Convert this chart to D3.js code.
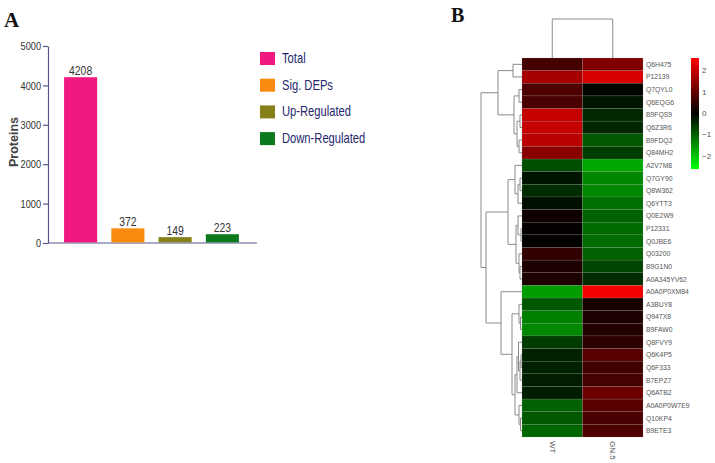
<!DOCTYPE html>
<html>
<head>
<meta charset="utf-8">
<script src="https://cdn.jsdelivr.net/npm/d3@7"></script>
<style>
body{margin:0;background:#fff;}
svg{display:block;}
.narrow{font-family:"Liberation Sans Narrow","Arial Narrow","Liberation Sans",Arial,sans-serif;}
</style>
</head>
<body>
<div id="chart"></div>
<script>
//DATA PANEL A
var categories = ['Total', 'Sig. DEPs', 'Up-Regulated', 'Down-Regulated'];
var proteinCounts = [4208, 372, 149, 223];
var barColors = ['#f0197f', '#fb8a10', '#85801a', '#0b7a1e'];
var yTicks = [0, 1000, 2000, 3000, 4000, 5000];

//DATA PANEL B
var proteinIds = ['Q6H475','P12139','Q7QYL0','Q6EQG6','B9FQS9','Q6Z3R6','B9FDQ2','Q84MH2',
	'A2V7M8','Q7GY90','Q8W362','Q6YTT3','Q0E2W9','P12331','Q0JBE6','Q03200','B9G1N0','A0A345YV62',
	'A0A0P0XM84','A3BUY8','Q947X8','B9FAW0','Q8FVY9','Q6K4P5','Q6F333','B7EPZ7','Q6ATB2',
	'A0A0P0W7E9','Q10KP4','B9ETE3'];
var samples = ['WT', 'GN.5'];
var wtValues = [0.7, 1.7, 0.8, 0.75, 2.0, 2.0, 1.9, 1.4,
	-0.8, -0.2, -0.45, -0.15, 0.15, 0.05, 0.03, 0.5, 0.3, 0.3,
	-1.6, -0.9, -1.3, -1.4, -0.6, -0.35, -0.35, -0.3, -0.3,
	-1.0, -0.9, -1.05];
var gnValues = [1.3, 2.2, -0.05, -0.2, -0.4, -0.4, -0.9, -0.6,
	-1.7, -1.4, -1.4, -1.15, -1.0, -1.1, -1.1, -1.0, -0.7, -0.45,
	2.5, 0.25, 0.3, 0.35, 0.45, 0.9, 0.65, 0.7, 1.1,
	0.9, 0.75, 0.8];
var legendTicks = [-2, -1, 0, 1, 2];

//row clustering: [height, left, right], leaves are row indexes
var rowTree = [41,
	[24,
		[9, 0, 1],
		[8, [3, 2, 3], [5, [2, 4, 5], [3, 6, 7]]]],
	[36,
		[14,
			[7, 8, [4, [2, 9, 10], 11]],
			[6, [4, 12, [1, 13, 14]], [3, 15, [2, 16, 17]]]],
		[21,
			18,
			[10,
				[3, 19, [1.5, 20, 21]],
				[7,
					[5, [3.5, 22, [2, [1, 23, 24], 25]], 26],
					[3, 27, [1.5, 28, 29]]]]]]];
var colTree = [39, 0, 1];

var width = 715, height = 463;
var SQUEEZE = 0.8; //fake a narrow font

var svg = d3.select('#chart').append('svg')
.attr('width', width)
.attr('height', height);

//PANEL A
var pa = svg.append('g');

pa.append('text')
.attr('x', 4)
.attr('y', 27)
.attr('font-family', 'Liberation Serif, Times New Roman, serif')
.attr('font-weight', 'bold')
.attr('font-size', 21)
.attr('fill', '#111')
.text('A');

var y = d3.scaleLinear().domain([0, 5000]).range([243, 46]);
var x = d3.scaleBand().domain(categories).range([57, 246])
.paddingInner(0.3).paddingOuter(0.15);

var axisColor = '#55578a';

var yAxis = pa.append('g')
.attr('class', 'narrow')
.attr('transform', 'translate(48,0)')
.call(d3.axisLeft(y).tickValues(yTicks).tickFormat(d3.format('d')).tickSize(5).tickSizeOuter(0));
yAxis.select('.domain').attr('stroke', axisColor).attr('stroke-width', 1.2);
yAxis.selectAll('.tick line').attr('stroke', axisColor).attr('stroke-width', 1.2);
yAxis.selectAll('.tick text')
.attr('fill', '#333')
.attr('font-size', 11.5)
.attr('x', -7 / SQUEEZE)
.attr('transform', 'scale(' + SQUEEZE + ',1)');

//x axis line
pa.append('line')
.attr('x1', 48).attr('x2', 257)
.attr('y1', y(0)).attr('y2', y(0))
.attr('stroke', axisColor)
.attr('stroke-width', 1.2);

pa.append('text')
.attr('transform', 'translate(18,142) rotate(-90)')
.attr('text-anchor', 'middle')
.attr('font-family', 'Liberation Sans, Arial, sans-serif')
.attr('font-weight', 'bold')
.attr('font-size', 12.5)
.attr('fill', '#444')
.text('Proteins');

pa.selectAll('rect.bar')
.data(proteinCounts)
.enter()
.append('rect')
.attr('class', 'bar')
.attr('x', function(d, i){ return x(categories[i]); })
.attr('y', function(d){ return y(d); })
.attr('width', x.bandwidth())
.attr('height', function(d){ return y(0) - y(d) - 0.6; })
.attr('fill', function(d, i){ return barColors[i]; });

pa.selectAll('text.val')
.data(proteinCounts)
.enter()
.append('text')
.attr('class', 'val narrow')
.attr('transform', function(d, i){
	return 'translate(' + (x(categories[i]) + x.bandwidth() / 2) + ',' + (y(d) - 2.5) + ') scale(' + SQUEEZE + ',1)';
})
.attr('text-anchor', 'middle')
.attr('font-size', 13)
.attr('fill', '#333')
.text(function(d){ return d; });

//legend
var legend = pa.selectAll('g.leg')
.data(categories)
.enter()
.append('g')
.attr('class', 'leg')
.attr('transform', function(d, i){ return 'translate(260,' + (52 + i * 26.7) + ')'; });

legend.append('rect')
.attr('width', 15)
.attr('height', 13)
.attr('fill', function(d, i){ return barColors[i]; });

legend.append('text')
.attr('class', 'narrow')
.attr('transform', 'translate(22,11) scale(' + SQUEEZE + ',1)')
.attr('font-size', 14)
.attr('fill', '#25286e')
.text(function(d){ return d; });

//PANEL B
var pb = svg.append('g');

pb.append('text')
.attr('x', 451)
.attr('y', 22)
.attr('font-family', 'Liberation Serif, Times New Roman, serif')
.attr('font-weight', 'bold')
.attr('font-size', 20)
.attr('fill', '#111')
.text('B');

var rowY = d3.scaleBand().domain(d3.range(proteinIds.length)).range([58, 437]);
var colX = d3.scaleBand().domain(samples).range([522, 643]);
var color = d3.scaleLinear().domain([-2.6, 0, 2.6]).range(['#00ff00', '#000000', '#ff0000']);

var cells = [];
proteinIds.forEach(function(id, i){
	cells.push({row: i, col: 'WT', v: wtValues[i]});
	cells.push({row: i, col: 'GN.5', v: gnValues[i]});
});

pb.selectAll('rect.cell')
.data(cells)
.enter()
.append('rect')
.attr('class', 'cell')
.attr('x', function(d){ return colX(d.col); })
.attr('y', function(d){ return rowY(d.row); })
.attr('width', colX.bandwidth())
.attr('height', rowY.bandwidth())
.attr('fill', function(d){ return color(d.v); })
.attr('stroke', '#9a9a9a')
.attr('stroke-opacity', 0.35)
.attr('stroke-width', 0.5);

//row labels
pb.selectAll('text.rowlab')
.data(proteinIds)
.enter()
.append('text')
.attr('class', 'rowlab')
.attr('x', 646)
.attr('y', function(d, i){ return rowY(i) + rowY.bandwidth() / 2; })
.attr('dominant-baseline', 'central')
.attr('font-family', 'Liberation Sans, Arial, sans-serif')
.attr('font-size', 6.8)
.attr('fill', '#555')
.text(function(d){ return d; });

//column labels
pb.selectAll('text.collab')
.data(samples)
.enter()
.append('text')
.attr('class', 'collab')
.attr('transform', function(d){ return 'translate(' + (colX(d) + colX.bandwidth() / 2) + ',441) rotate(90)'; })
.attr('dominant-baseline', 'central')
.attr('font-family', 'Liberation Sans, Arial, sans-serif')
.attr('font-size', 8)
.attr('fill', '#555')
.text(function(d){ return d; });

//DENDROGRAMS
var treeColor = '#8a8a8a';
var rowH = d3.scaleLinear().domain([0, rowTree[0]]).range([522, 481]);
var colH = d3.scaleLinear().domain([0, colTree[0]]).range([58, 19]);
var dendro = pb.append('g')
.attr('fill', 'none')
.attr('stroke', treeColor)
.attr('stroke-width', 1);

//returns {pos, h} of a node, drawing its links
function drawRowNode(node){
	if(typeof node === 'number'){
		return {pos: rowY(node) + rowY.bandwidth() / 2, h: 0};
	}
	var a = drawRowNode(node[1]);
	var b = drawRowNode(node[2]);
	var hx = rowH(node[0]);
	dendro.append('path')
	.attr('d', 'M' + rowH(a.h) + ',' + a.pos + 'H' + hx + 'V' + b.pos + 'H' + rowH(b.h));
	return {pos: (a.pos + b.pos) / 2, h: node[0]};
}
drawRowNode(rowTree);

function drawColNode(node){
	if(typeof node === 'number'){
		return {pos: colX(samples[node]) + colX.bandwidth() / 2, h: 0};
	}
	var a = drawColNode(node[1]);
	var b = drawColNode(node[2]);
	var hy = colH(node[0]);
	dendro.append('path')
	.attr('d', 'M' + a.pos + ',' + colH(a.h) + 'V' + hy + 'H' + b.pos + 'V' + colH(b.h));
	return {pos: (a.pos + b.pos) / 2, h: node[0]};
}
drawColNode(colTree);

//COLOR KEY
var keyY = d3.scaleLinear().domain([-2.6, 2.6]).range([169, 58]);
var grad = svg.append('defs').append('linearGradient')
.attr('id', 'keyGrad')
.attr('x1', 0).attr('y1', 1).attr('x2', 0).attr('y2', 0);
grad.selectAll('stop')
.data(d3.range(-2.6, 2.61, 0.26))
.enter()
.append('stop')
.attr('offset', function(d){ return (d + 2.6) / 5.2; })
.attr('stop-color', function(d){ return color(d); });

pb.append('rect')
.attr('x', 691)
.attr('y', keyY(2.6))
.attr('width', 8)
.attr('height', keyY(-2.6) - keyY(2.6))
.attr('fill', 'url(#keyGrad)');

pb.selectAll('text.keylab')
.data(legendTicks)
.enter()
.append('text')
.attr('class', 'keylab')
.attr('x', 702)
.attr('y', function(d){ return keyY(d); })
.attr('dominant-baseline', 'central')
.attr('font-family', 'Liberation Sans, Arial, sans-serif')
.attr('font-size', 8)
.attr('fill', '#555')
.text(function(d){ return d < 0 ? '\u2212' + Math.abs(d) : d; });
</script>
</body>
</html>
